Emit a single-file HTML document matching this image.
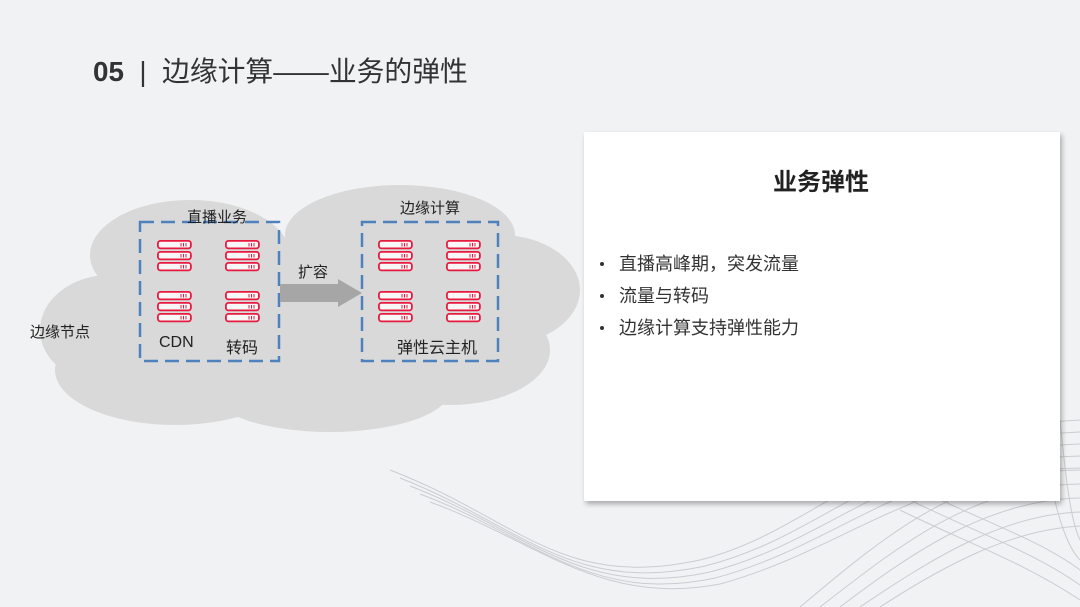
<!DOCTYPE html>
<html><head><meta charset="utf-8"><style>
html,body{margin:0;padding:0}
body{width:1080px;height:607px;position:relative;overflow:hidden;background:#f1f2f4;font-family:"Liberation Sans","Noto Sans CJK SC",sans-serif;color:#222}
.t{position:absolute;white-space:nowrap}
.b{position:absolute;left:619px;font-size:18px;color:#333;white-space:nowrap}
.d{position:absolute;left:600px;width:4px;height:4px;border-radius:50%;background:#333}
</style></head><body>
<svg width="1080" height="607" style="position:absolute;left:0;top:0">
<g fill="none" stroke="#c3c6cb" stroke-width="1" opacity="0.85">
<path d="M390 470 C520 520 560 590 700 560 C820 530 880 430 1080 420"/>
<path d="M400 478 C520 525 570 595 705 566 C830 535 890 440 1080 432"/>
<path d="M410 486 C525 530 580 600 710 572 C835 540 900 450 1080 444"/>
<path d="M420 494 C530 535 590 605 715 578 C840 545 910 460 1080 456"/>
<path d="M430 502 C535 540 600 607 720 584 C845 550 920 470 1080 468"/>
<path d="M800 607 C880 540 960 470 1080 470"/>
<path d="M820 607 C900 545 975 485 1080 484"/>
<path d="M840 607 C915 550 990 500 1080 498"/>
<path d="M860 607 C930 560 1000 515 1080 512"/>
<path d="M880 607 C945 565 1010 530 1080 526"/>
<path d="M900 510 C960 540 1020 560 1080 600"/>
<path d="M910 500 C970 530 1030 550 1080 585"/>
<path d="M920 490 C980 520 1040 540 1080 570"/>
<path d="M1040 430 C1050 480 1060 540 1080 560"/>
<path d="M1060 420 C1065 470 1070 520 1080 540"/>
</g>
<g fill="#d9d9d9">
<ellipse cx="190" cy="255" rx="100" ry="55"/>
<ellipse cx="400" cy="235" rx="115" ry="50"/>
<ellipse cx="500" cy="290" rx="80" ry="55"/>
<ellipse cx="110" cy="330" rx="70" ry="55"/>
<ellipse cx="175" cy="370" rx="120" ry="55"/>
<ellipse cx="330" cy="390" rx="120" ry="42"/>
<ellipse cx="450" cy="350" rx="100" ry="55"/>
<rect x="150" y="240" width="350" height="140"/>
</g>
<g fill="none" stroke="#4f81bd" stroke-width="2.5" stroke-dasharray="14 7">
<rect x="140" y="222" width="139" height="139"/>
<rect x="362" y="222" width="136" height="139"/>
</g>
<rect x="280" y="284" width="58" height="18" fill="#a6a6a6"/>
<polygon points="338,279 362,293 338,307" fill="#a6a6a6"/>
</svg>
<svg width="1080" height="607" style="position:absolute;left:0;top:0">
<defs>
<g id="u"><rect x="0.9" y="0.9" width="33" height="7.5" rx="2.5" fill="#f7f7f7" stroke="#e8193f" stroke-width="1.8"/><g stroke="#e8193f" stroke-width="1"><line x1="24" y1="3" x2="24" y2="6.5"/><line x1="26.5" y1="3" x2="26.5" y2="6.5"/><line x1="29" y1="3" x2="29" y2="6.5"/></g></g>
<g id="s"><use href="#u"/><use href="#u" y="11"/><use href="#u" y="22"/></g>
</defs>
<use href="#s" x="157" y="240"/><use href="#s" x="225" y="240"/>
<use href="#s" x="157" y="291"/><use href="#s" x="225" y="291"/>
<use href="#s" x="378" y="240"/><use href="#s" x="446" y="240"/>
<use href="#s" x="378" y="291"/><use href="#s" x="446" y="291"/>
</svg>
<div class="t" style="left:93px;top:50px;font-size:27.8px;color:#333"><b>05</b> &nbsp;|&nbsp; 边缘计算——业务的弹性</div>
<div class="t" style="left:187px;top:206px;font-size:15px">直播业务</div>
<div class="t" style="left:400px;top:197px;font-size:15px">边缘计算</div>
<div class="t" style="left:298px;top:261px;font-size:15px">扩容</div>
<div class="t" style="left:30px;top:321px;font-size:15px">边缘节点</div>
<div class="t" style="left:159px;top:334px;font-size:16px">CDN</div>
<div class="t" style="left:226px;top:334px;font-size:16px">转码</div>
<div class="t" style="left:397px;top:334px;font-size:16px">弹性云主机</div>
<div style="position:absolute;left:584px;top:132px;width:476px;height:369px;background:#fff;box-shadow:2px 3px 5px rgba(0,0,0,0.3)"></div>
<div class="t" style="left:773px;top:162px;font-size:24px;font-weight:bold">业务弹性</div>
<div class="d" style="top:262px"></div><div class="b" style="top:250px">直播高峰期，突发流量</div>
<div class="d" style="top:294px"></div><div class="b" style="top:282px">流量与转码</div>
<div class="d" style="top:326px"></div><div class="b" style="top:314px">边缘计算支持弹性能力</div>
</body></html>
